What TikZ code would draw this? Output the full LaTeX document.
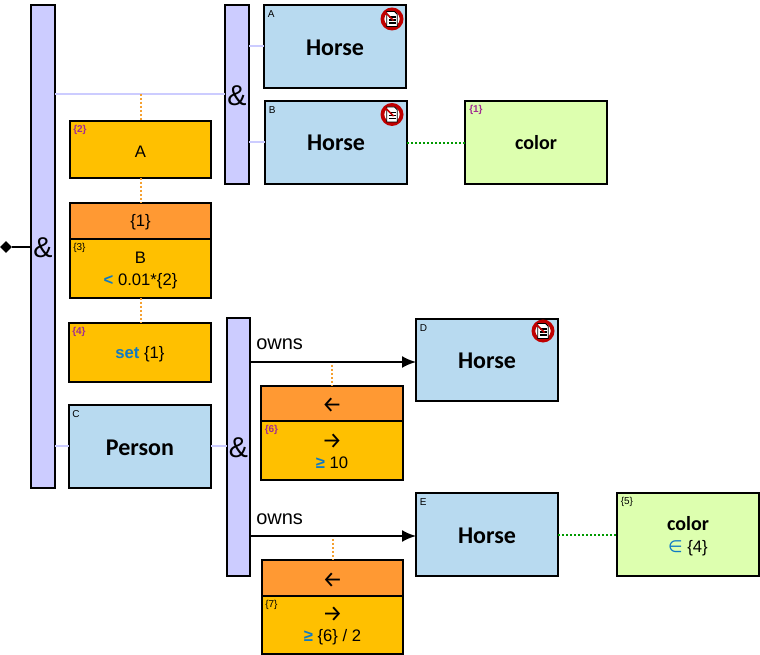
\documentclass[tikz,border=0pt]{standalone}
\usepackage{fontspec}
\setmainfont{Liberation Sans}
\newfontfamily\calib{Carlito}
\newfontfamily\dejav{DejaVu Sans}
\newfontfamily\arwfont{Fira Sans}
\usetikzlibrary{arrows.meta,shapes.geometric}
\definecolor{andfill}{HTML}{CCCCFF}
\definecolor{andline}{HTML}{CCCCFF}
\definecolor{entfill}{HTML}{B8DAF0}
\definecolor{attrfill}{HTML}{DDFFAF}
\definecolor{valfill}{HTML}{FFC000}
\definecolor{rolefill}{HTML}{FF9933}
\definecolor{dotor}{HTML}{F5A030}
\definecolor{dotgr}{HTML}{009900}
\definecolor{kwblue}{HTML}{0F7AC4}
\definecolor{purp}{HTML}{A02C90}
\definecolor{forbid}{HTML}{C00000}
\newcommand{\kw}[1]{\textcolor{kwblue}{\textbf{#1}}}
\newcommand{\arw}[1]{{\arwfont\fontsize{17}{17}\selectfont #1}}
\newcommand{\attrname}{\calib\bfseries\fontsize{15}{16}\selectfont color}
\tikzset{
  x=0.75pt,y=-0.75pt,
  boxb/.style={draw=black,line width=1.6pt,rectangle,inner sep=0pt,outer sep=0pt,
    text centered,align=center,font=\fontsize{12.5}{16.5}\selectfont},
  andbox/.style={boxb,fill=andfill,font=\fontsize{21.5}{24}\selectfont},
  ent/.style={boxb,fill=entfill,font=\calib\bfseries\fontsize{18}{22}\selectfont},
  attr/.style={boxb,fill=attrfill},
  val/.style={boxb,fill=valfill},
  role/.style={boxb,fill=rolefill},
  tag/.style={inner sep=0pt,anchor=north west,font=\fontsize{7.5}{8}\selectfont},
  ptag/.style={tag,text=purp,font=\bfseries\fontsize{7.5}{8}\selectfont},
  rel/.style={draw=black,line width=1.5pt,-{Latex[length=10.5pt,width=9pt]}},
  soft/.style={draw=andline,line width=1.2pt},
  dor/.style={draw=dotor,line width=1.5pt,dash pattern=on 1.5pt off 1.5pt},
  dgr/.style={draw=dotgr,line width=1.5pt,dash pattern=on 1.5pt off 1.5pt},
  lab/.style={inner sep=0pt,anchor=base west,font=\fontsize{15}{16}\selectfont},
  forbidden/.pic={
    \draw[forbid,fill=white,line width=2.8pt] (0,0) circle (9.6);
    \draw[black,fill=white,line width=0.6pt] (-5.2,-7.5) -- (2.5,-7.5) -- (5.2,-4.8) -- (5.2,7.5) -- (-5.2,7.5) -- cycle;
    \draw[black,line width=0.8pt] (-3.5,-2) -- (3.5,-2) (-3.5,1) -- (3.5,1) (-3.5,4) -- (3.5,4);
    \draw[forbid,line width=1.2pt] (-7,-7) -- (1.5,1.5);
  }
}
% box from outer edges: \bx[text shift px]{name}{style}{x0}{y0}{x1}{y1}{text}
\newcommand{\bx}[8][2]{%
  \pgfmathsetmacro{\wdv}{(#6-#4)*0.75}%
  \pgfmathsetmacro{\htv}{(#7-#5)*0.75}%
  \node[#3,minimum width=\wdv pt,minimum height=\htv pt] (#2) at ({(#4+#6)/2},{(#5+#7)/2}) {};
  \node[#3,draw=none,fill=none] (#2t) at ({(#4+#6)/2},{(#5+#7)/2+#1}) {#8};}
\begin{document}
\begin{tikzpicture}
\useasboundingbox (0,0) rectangle (760,655);
\fill[white] (0,0) rectangle (760,655);
% reference heights
\coordinate (ya) at (0,46);
\coordinate (yb) at (0,142);
\coordinate (yj) at (0,94);
\coordinate (yroot) at (0,247);
\coordinate (yc) at (0,446);
\coordinate (yd) at (0,362);
\coordinate (ye) at (0,536);
\coordinate (ycol) at (0,143);
\coordinate (ycol2) at (0,535);
% boxes
\bx[1]{and1}{andbox}{31}{5}{55}{488}{\&}
\bx[1]{and2}{andbox}{225}{5}{249}{184}{\&}
\bx[1]{and3}{andbox}{227}{318}{250}{576}{\&}
\bx[1]{hA}{ent}{264}{5}{406}{88}{Horse}
\bx[0]{hB}{ent}{265}{101}{407}{184}{Horse}
\bx[0]{colA}{attr}{465}{101}{607}{184}{\attrname}
\bx{vA}{val}{70}{121}{211}{178}{A}
\bx[1]{r1}{role}{70}{203}{211}{239}{\{1\}}
\bx{vB}{val}{70}{239}{211}{298}{B\\\kw{<} 0.01*\{2\}}
\bx{v4}{val}{69}{323}{211}{382}{\kw{set} \{1\}}
\bx[1]{pC}{ent}{69}{405}{211}{488}{Person}
\bx[1]{hD}{ent}{416}{319}{558}{401}{Horse}
\bx[2]{r6}{role}{261}{386}{403}{421}{\arw{←}}
\bx[1]{v6}{val}{261}{421}{403}{480}{\arw{→}\\[-2pt]\kw{≥} 10}
\bx[1]{hE}{ent}{416}{493}{558}{576}{Horse}
\bx{colE}{attr}{617}{493}{759}{576}{{\attrname}\\{\dejav\textcolor{kwblue}{∈}} \{4\}}
\bx[2]{r7}{role}{262}{560}{403}{596}{\arw{←}}
\bx[1]{v7}{val}{262}{596}{403}{654}{\arw{→}\\[-2pt]\kw{≥} \{6\} / 2}
% tags
\node[tag] at (267.5,10) {A};
\node[tag] at (268.5,106) {B};
\node[ptag] at (469,105) {\{1\}};
\node[ptag] at (73,125) {\{2\}};
\node[tag] at (73,243) {\{3\}};
\node[ptag] at (72,327) {\{4\}};
\node[tag] at (72,410) {C};
\node[tag] at (419.5,324) {D};
\node[ptag] at (264.5,425) {\{6\}};
\node[tag] at (419.5,498) {E};
\node[tag] at (620.5,497) {\{5\}};
\node[tag] at (265,600) {\{7\}};
% icons
\pic at (392,19) {forbidden};
\pic at (392,114.5) {forbidden};
\pic at (543,331) {forbidden};
% connectors
\node[diamond,fill=black,inner sep=0pt,minimum width=9pt,minimum height=9pt] (root) at (6,247) {};
\draw[black,line width=1.5pt] (root) -- (and1.west |- yroot);
\draw[soft] (and1.east |- yj) -- (and2.west |- yj);
\draw[soft] (and2.east |- ya) -- (hA.west |- ya);
\draw[soft] (and2.east |- yb) -- (hB.west |- yb);
\draw[soft] (and1.east |- yc) -- (pC.west |- yc);
\draw[soft] (pC.east |- yc) -- (and3.west |- yc);
\coordinate (j1) at (vA.north |- yj);
\draw[dor] (j1) -- (vA.north);
\draw[dor] (vA.south) -- (r1.north);
\draw[dor] (vB.south) -- (v4.north -| vB.south);
\draw[dgr] (hB.east |- ycol) -- (colA.west |- ycol);
\draw[dgr] (hE.east |- ycol2) -- (colE.west |- ycol2);
\draw[rel] (and3.east |- yd) -- (hD.west |- yd);
\draw[rel] (and3.east |- ye) -- (hE.west |- ye);
\draw[dor] (r6.north |- yd) ++(0,3) -- (r6.north);
\draw[dor] (r7.north |- ye) ++(0,3) -- (r7.north);
\node[lab] at (256,350) {owns};
\node[lab] at (256,524) {owns};
\end{tikzpicture}
\end{document}
